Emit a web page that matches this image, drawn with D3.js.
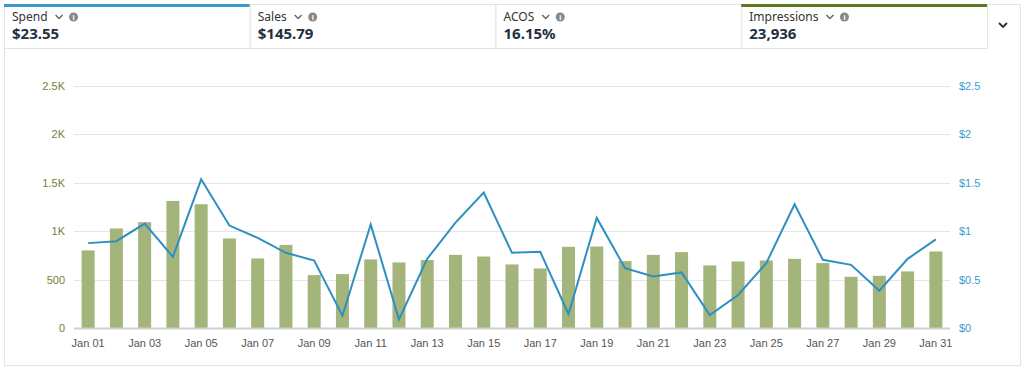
<!DOCTYPE html>
<html><head><meta charset="utf-8">
<script src="https://cdn.jsdelivr.net/npm/d3@7"></script>
<style>
html,body{margin:0;padding:0;background:#fff;}
svg{display:block;font-family:"Noto Sans","Open Sans",sans-serif;}
</style></head>
<body><svg id="c" width="1024" height="368"></svg>
<script>
const days = d3.range(1,32).map(d => "Jan " + String(d).padStart(2,"0"));
const impressions = [800,1026,1091,1310,1276,923,717,857,545,556,707,676,700,754,737,655,614,837,840,689,754,782,645,686,696,713,669,528,538,583,789];
const spend = [0.875,0.895,1.077,0.734,1.533,1.056,0.929,0.775,0.696,0.127,1.067,0.089,0.713,1.087,1.396,0.775,0.785,0.144,1.135,0.617,0.532,0.573,0.134,0.340,0.669,1.276,0.703,0.651,0.384,0.713,0.913];
const leftTicks = [0,500,1000,1500,2000,2500];
const leftTickLabels = ["0","500","1K","1.5K","2K","2.5K"];
const rightTicks = [0,0.5,1,1.5,2,2.5];
const rightTickLabels = ["$0","$0.5","$1","$1.5","$2","$2.5"];
const metricNames = ["Spend","Sales","ACOS","Impressions"];
const metricValues = ["$23.55","$145.79","16.15%","23,936"];
const metricAccent = ["#3b97cc",null,null,"#5b7a1f"];

const svg = d3.select("#c");
// card
svg.append("rect").attr("x",4.5).attr("y",4.5).attr("width",1016).attr("height",361)
  .attr("fill","#fff").attr("stroke","#e3e3e3");

// tiles
const tileX = d3.scaleLinear().domain([0,4]).range([4,987]);
metricNames.forEach((m,i)=>{
  const x0 = tileX(i), x1 = tileX(i+1);
  const g = svg.append("g");
  g.append("rect").attr("x",x0+0.5).attr("y",4.5).attr("width",x1-x0).attr("height",44)
    .attr("fill","#fff").attr("stroke","#e3e3e3");
  if (metricAccent[i]) g.append("rect").attr("x",x0).attr("y",4).attr("width",x1-x0).attr("height",3).attr("fill",metricAccent[i]);
  const t = g.append("text").attr("x",x0+8).attr("y",21).attr("font-size",12).attr("fill","#333").text(m);
  const w = t.node().getComputedTextLength();
  g.append("path").attr("d",`M${x0+8+w+8},${15} l3.5,3.5 l3.5,-3.5`).attr("fill","none").attr("stroke","#666").attr("stroke-width",1.4);
  g.append("circle").attr("cx",x0+8+w+26).attr("cy",17).attr("r",4.5).attr("fill","#888");
  g.append("text").attr("x",x0+8+w+26).attr("y",20).attr("text-anchor","middle").attr("font-size",7).attr("font-weight","bold").attr("fill","#fff").text("i");
  g.append("text").attr("x",x0+8).attr("y",39).attr("font-size",15).attr("font-weight","bold").attr("fill","#232f3e").text(metricValues[i]);
});
svg.append("path").attr("d","M999,23 l4,4 l4,-4").attr("fill","none").attr("stroke","#232f3e").attr("stroke-width",1.8);

// scales
const x = d3.scaleBand().domain(days).range([74,950]).paddingInner(0.54).paddingOuter(0.27);
const yL = d3.scaleLinear().domain([0,2500]).range([328,85.5]);
const yR = d3.scaleLinear().domain([0,2.5]).range([328,85.5]);

// gridlines
svg.append("g").selectAll("line").data(leftTicks.slice(1)).join("line")
  .attr("x1",74).attr("x2",950).attr("y1",d=>Math.round(yL(d))+0.5).attr("y2",d=>Math.round(yL(d))+0.5)
  .attr("stroke","#e6e6e6");

// left axis
const axL = svg.append("g").attr("transform","translate(74,0)")
  .call(d3.axisLeft(yL).tickValues(leftTicks).tickFormat((d,i)=>leftTickLabels[i]).tickSize(0).tickPadding(9));
axL.select(".domain").remove();
axL.selectAll("text").attr("font-size",11).attr("fill","#6f8434").attr("font-family","inherit");

// right axis
const axR = svg.append("g").attr("transform","translate(950,0)")
  .call(d3.axisRight(yR).tickValues(rightTicks).tickFormat((d,i)=>rightTickLabels[i]).tickSize(0).tickPadding(9));
axR.select(".domain").remove();
axR.selectAll("text").attr("font-size",11).attr("fill","#3b9bd0").attr("font-family","inherit");

// bars
svg.append("g").selectAll("rect").data(impressions).join("rect")
  .attr("x",(d,i)=>x(days[i])).attr("width",x.bandwidth())
  .attr("y",d=>yL(d)).attr("height",d=>yL(0)-yL(d))
  .attr("fill","#a4b57b");

// baseline
svg.append("line").attr("x1",74).attr("x2",950).attr("y1",328.5).attr("y2",328.5).attr("stroke","#d0d0d0").attr("stroke-width",2);

// x axis
const axX = svg.append("g").attr("transform","translate(0,329)")
  .call(d3.axisBottom(x).tickValues(days.filter((d,i)=>i%2===0)).tickSize(0).tickPadding(10));
axX.select(".domain").remove();
axX.selectAll("text").attr("font-size",11).attr("fill","#555").attr("font-family","inherit");

// line
const line = d3.line().x((d,i)=>x(days[i])+x.bandwidth()/2).y(d=>yR(d));
svg.append("path").datum(spend).attr("d",line).attr("fill","none").attr("stroke","#2f8fc2").attr("stroke-width",2);
</script></body></html>
